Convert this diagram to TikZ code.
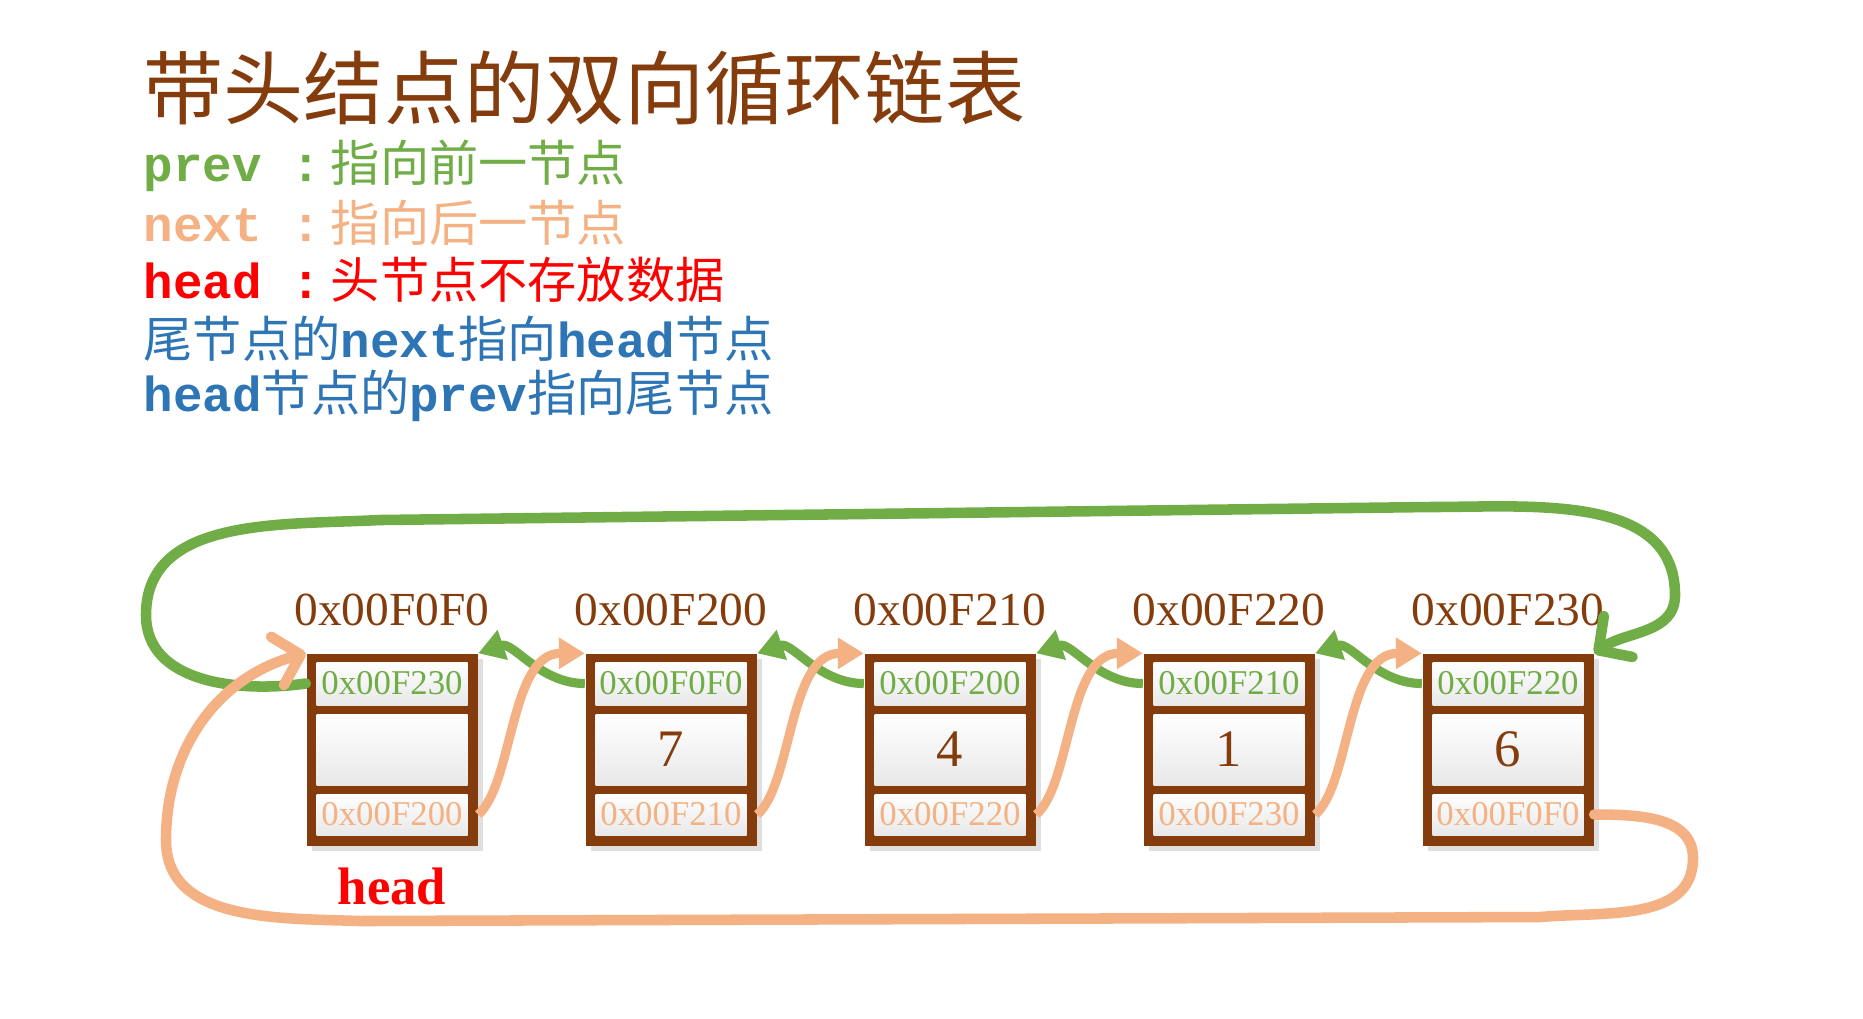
\documentclass[tikz,border=0pt]{standalone}
\usepackage{fontspec}
\setmainfont{Liberation Serif}
\newfontfamily\cjk{Noto Sans CJK SC}
\newfontfamily\mono{Liberation Mono}
\usetikzlibrary{arrows.meta,positioning,shadows}
\definecolor{brn}{RGB}{132,60,12}
\definecolor{grn}{RGB}{112,173,71}
\definecolor{pch}{RGB}{244,177,131}
\definecolor{blu}{RGB}{46,117,182}
\newcommand{\en}[1]{{\mono\bfseries #1}}
\tikzset{
  legend/.style={anchor=west,inner sep=0,font=\cjk\fontsize{14}{16}\selectfont},
  frame/.style={fill=brn,minimum width=1.71cm,minimum height=1.92cm,inner sep=0,
    drop shadow={opacity=0.25,shadow xshift=0.5mm,shadow yshift=-0.5mm}},
  cell/.style={top color=white,middle color=white,bottom color=gray!18,
    minimum width=1.51cm,inner sep=0},
  pcell/.style={cell,minimum height=0.43cm,text=grn,font=\fontsize{9.9}{12}\selectfont},
  dcell/.style={cell,minimum height=0.71cm,text=brn,font=\fontsize{15}{18}\selectfont},
  ncell/.style={cell,minimum height=0.41cm,text=pch,font=\fontsize{9.9}{12}\selectfont},
  addr/.style={inner sep=0,text=brn,font=\fontsize{13.5}{16}\selectfont},
  prevlink/.style={draw=grn,line width=2.6pt,-{Triangle[length=2.6mm,width=3mm]}},
  nextlink/.style={draw=pch,line width=2.6pt,-{Triangle[length=2.6mm,width=3mm]}},
  loop/.style={line width=3pt,line cap=round,-{Straight Barb[length=2.4mm,width=5mm,round]}}
}
\begin{document}
\begin{tikzpicture}
  \useasboundingbox (0,0) rectangle (18.63,-10.18);
  % title and legend
  \node[legend,text=brn,font=\cjk\fontsize{22.8}{26}\selectfont] (title) at (1.43,-0.88){带头结点的双向循环链表};
  \node[legend,text=grn] (lprev) at (1.43,-1.66){\en{prev :}\hspace{1mm}指向前一节点};
  \node[legend,text=pch] (lnext) at (1.43,-2.23){\en{next :}\hspace{1mm}指向后一节点};
  \node[legend,text=red] (lhead) at (1.43,-2.80){\en{head :}\hspace{1mm}头节点不存放数据};
  \node[legend,text=blu] (ltail) at (1.43,-3.39){尾节点的\en{next}指向\en{head}节点};
  \node[legend,text=blu] (lloop) at (1.43,-3.96){\en{head}节点的\en{prev}指向尾节点};
  % nodes of the list
  \node[frame] (b1) at (3.92,-7.50){};
  \node[pcell] (p1) at (3.92,-6.835){0x00F230};
  \node[dcell] (d1) at (3.92,-7.495){};
  \node[ncell] (n1) at (3.92,-8.145){0x00F200};
  \node[addr,above=0.27cm of b1] (a1){0x00F0F0};
  \node[below=0.2cm of b1,inner sep=0,text=red,font=\bfseries\fontsize{15}{18}\selectfont] (hd){head};
  \node[frame] (b2) at (6.71,-7.50){};
  \node[pcell] (p2) at (6.71,-6.835){0x00F0F0};
  \node[dcell] (d2) at (6.71,-7.495){7};
  \node[ncell] (n2) at (6.71,-8.145){0x00F210};
  \node[addr,above=0.27cm of b2] (a2){0x00F200};
  \node[frame] (b3) at (9.50,-7.50){};
  \node[pcell] (p3) at (9.50,-6.835){0x00F200};
  \node[dcell] (d3) at (9.50,-7.495){4};
  \node[ncell] (n3) at (9.50,-8.145){0x00F220};
  \node[addr,above=0.27cm of b3] (a3){0x00F210};
  \node[frame] (b4) at (12.29,-7.50){};
  \node[pcell] (p4) at (12.29,-6.835){0x00F210};
  \node[dcell] (d4) at (12.29,-7.495){1};
  \node[ncell] (n4) at (12.29,-8.145){0x00F230};
  \node[addr,above=0.27cm of b4] (a4){0x00F220};
  \node[frame] (b5) at (15.08,-7.50){};
  \node[pcell] (p5) at (15.08,-6.835){0x00F220};
  \node[dcell] (d5) at (15.08,-7.495){6};
  \node[ncell] (n5) at (15.08,-8.145){0x00F0F0};
  \node[addr,above=0.27cm of b5] (a5){0x00F230};
  % prev links
  \draw[prevlink] (p2.west -| b2.west) .. controls +(-0.45,0) and +(0.35,0.12) .. (b1.north east);
  \draw[prevlink] (p3.west -| b3.west) .. controls +(-0.45,0) and +(0.35,0.12) .. (b2.north east);
  \draw[prevlink] (p4.west -| b4.west) .. controls +(-0.45,0) and +(0.35,0.12) .. (b3.north east);
  \draw[prevlink] (p5.west -| b5.west) .. controls +(-0.45,0) and +(0.35,0.12) .. (b4.north east);
  % next links
  \draw[nextlink] (n1.east -| b1.east) .. controls +(0.35,0.3) and +(-0.75,0) .. (b2.north west);
  \draw[nextlink] (n2.east -| b2.east) .. controls +(0.35,0.3) and +(-0.75,0) .. (b3.north west);
  \draw[nextlink] (n3.east -| b3.east) .. controls +(0.35,0.3) and +(-0.75,0) .. (b4.north west);
  \draw[nextlink] (n4.east -| b4.east) .. controls +(0.35,0.3) and +(-0.75,0) .. (b5.north west);
  % head <-> tail
  \draw[loop,grn] (p1.west -| b1.west) to[out=188,in=-90] (1.46,-6.15) to[out=90,in=183] (3.8,-5.2)
    -- (14.3,-5.07) to[out=0,in=90] (16.75,-5.95) to[out=-90,in=35] (b5.north east);
  \draw[loop,pch] (n5.east -| b5.east) to[out=0,in=90] (16.93,-8.58) to[out=-90,in=5] (15.4,-9.17)
    -- (3.6,-9.21) to[out=178,in=-90] (1.66,-8.4) to[out=90,in=195] (b1.north west);
\end{tikzpicture}
\end{document}
